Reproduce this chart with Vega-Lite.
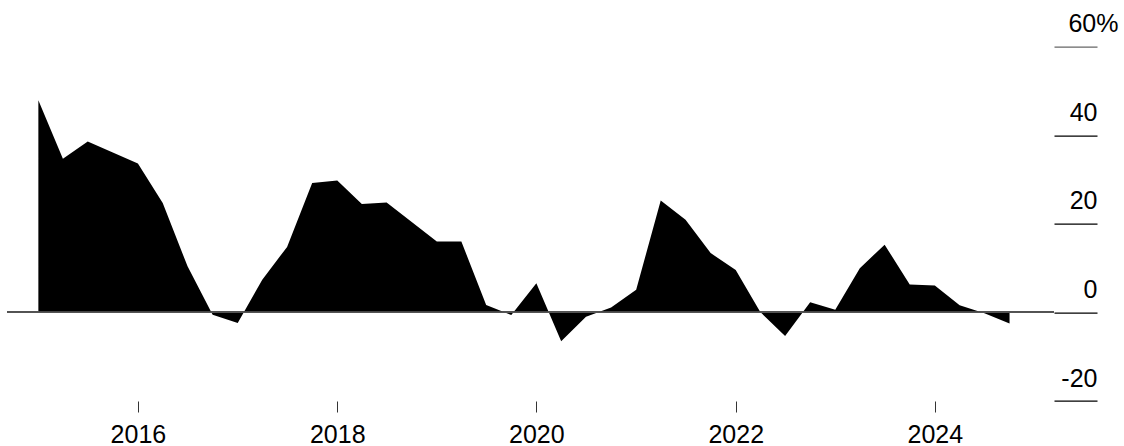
{
  "$schema": "https://vega.github.io/schema/vega-lite/v6.json",
  "width": 1047,
  "height": 354.3,
  "autosize": "none",
  "padding": {"left": 7, "top": 46.7, "right": 70, "bottom": 45},
  "background": "white",
  "config": {
    "view": {"stroke": null},
    "font": "Liberation Sans"
  },
  "data": {
    "values": [
      {"date": "2015-01-01", "change": 47.9},
      {"date": "2015-04-01", "change": 34.7},
      {"date": "2015-07-01", "change": 38.6},
      {"date": "2015-10-01", "change": 36.1},
      {"date": "2016-01-01", "change": 33.6},
      {"date": "2016-04-01", "change": 24.7},
      {"date": "2016-07-01", "change": 10.4},
      {"date": "2016-10-01", "change": -0.5},
      {"date": "2017-01-01", "change": -2.4},
      {"date": "2017-04-01", "change": 7.4},
      {"date": "2017-07-01", "change": 14.8},
      {"date": "2017-10-01", "change": 29.2},
      {"date": "2018-01-01", "change": 29.8},
      {"date": "2018-04-01", "change": 24.5},
      {"date": "2018-07-01", "change": 24.8},
      {"date": "2018-10-01", "change": 20.4},
      {"date": "2019-01-01", "change": 16.0},
      {"date": "2019-04-01", "change": 16.0},
      {"date": "2019-07-01", "change": 1.7},
      {"date": "2019-10-01", "change": -0.6},
      {"date": "2020-01-01", "change": 6.6},
      {"date": "2020-04-01", "change": -6.5},
      {"date": "2020-07-01", "change": -1.0},
      {"date": "2020-10-01", "change": 1.1},
      {"date": "2021-01-01", "change": 5.1},
      {"date": "2021-04-01", "change": 25.3},
      {"date": "2021-07-01", "change": 20.9},
      {"date": "2021-10-01", "change": 13.4},
      {"date": "2022-01-01", "change": 9.6},
      {"date": "2022-04-01", "change": 0.1},
      {"date": "2022-07-01", "change": -5.3},
      {"date": "2022-10-01", "change": 2.3},
      {"date": "2023-01-01", "change": 0.6},
      {"date": "2023-04-01", "change": 10.0},
      {"date": "2023-07-01", "change": 15.3},
      {"date": "2023-10-01", "change": 6.3},
      {"date": "2024-01-01", "change": 6.1},
      {"date": "2024-04-01", "change": 1.6},
      {"date": "2024-07-01", "change": -0.2},
      {"date": "2024-10-01", "change": -2.5}
    ]
  },
  "encoding": {
    "x": {
      "field": "date",
      "type": "temporal",
      "scale": {
        "type": "utc",
        "domain": [
          {"year": 2014, "month": 9, "date": 8, "utc": true},
          {"year": 2025, "month": 3, "date": 13, "utc": true}
        ]
      },
      "axis": {
        "title": null,
        "domain": false,
        "grid": false,
        "values": [
          {"year": 2016, "utc": true},
          {"year": 2018, "utc": true},
          {"year": 2020, "utc": true},
          {"year": 2022, "utc": true},
          {"year": 2024, "utc": true}
        ],
        "format": "%Y",
        "tickSize": 11,
        "tickColor": "#333",
        "tickWidth": 1,
        "labelFontSize": 25,
        "labelColor": "black",
        "labelPadding": 10,
        "labelFlush": false
      }
    },
    "y": {
      "field": "change",
      "type": "quantitative",
      "scale": {"domain": [-20, 60], "nice": false, "zero": false},
      "axis": {
        "title": null,
        "orient": "right",
        "domain": false,
        "grid": false,
        "values": [-20, 0, 20, 40, 60],
        "labelExpr": "datum.value === 60 ? '60%' : toString(datum.value)",
        "tickSize": 43,
        "tickWidth": 1.2,
        "tickColor": {"condition": {"test": "datum.value === 60", "value": "#666"}, "value": "black"},
        "labelAlign": "right",
        "labelBaseline": "alphabetic",
        "labelOffset": -15,
        "labelPadding": {"condition": {"test": "datum.value === 60", "value": 21}, "value": 0},
        "labelFontSize": 25,
        "labelColor": "black",
        "labelFlush": false,
        "labelOverlap": false
      }
    }
  },
  "layer": [
    {
      "mark": {"type": "area", "color": "black", "interpolate": "linear"},
      "encoding": {"y2": {"datum": 0}}
    },
    {
      "mark": {"type": "rule", "color": "#555", "strokeWidth": 1},
      "encoding": {"y": {"datum": 0}, "x": null}
    }
  ]
}
